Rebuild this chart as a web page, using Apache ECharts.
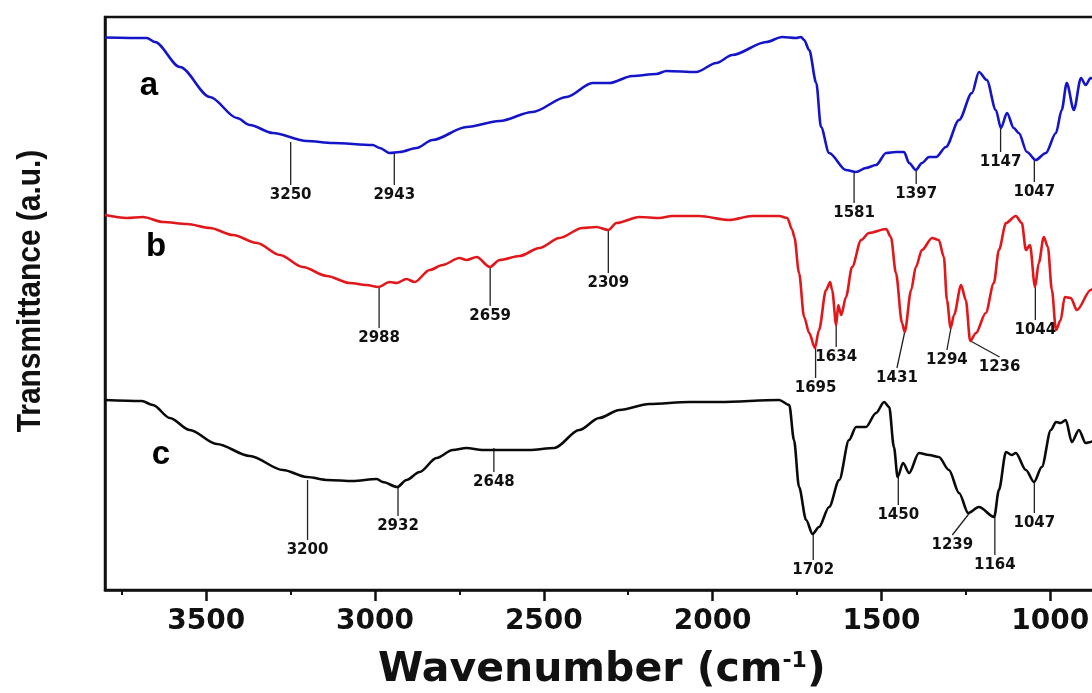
<!DOCTYPE html>
<html>
<head>
<meta charset="utf-8">
<script src="https://cdn.jsdelivr.net/npm/echarts@6/dist/echarts.min.js"></script>
<style>
  html, body { margin: 0; padding: 0; background: #fff; overflow: hidden; }
  #chart { width: 1260px; height: 693px; }
</style>
</head>
<body>
<div id="chart"></div>
<script>
// FTIR spectra, offset vertically: [wavenumber (cm-1), transmittance (a.u.)]
const spectrumA = [
  [3800,110.5],[3676,110.4],[3652,109.6],[3578,104.6],[3489,98.6],[3409,94.4],[3371,93.0],
  [3303,91.4],[3202,89.8],[3125,89.4],[3007,89.0],[2986,88.4],[2957,87.4],[2927,87.6],
  [2877,88.4],[2830,90.0],[2729,92.6],[2631,93.8],[2534,95.6],[2433,98.6],[2356,101.4],
  [2306,101.4],[2238,102.8],[2167,103.2],[2137,103.8],[2049,103.6],[1989,105.4],[1942,107.0],
  [1841,109.6],[1794,110.6],[1753,110.4],[1738,110.6],[1729,110.0],[1714,108.0],[1693,101.4],
  [1679,92.6],[1655,87.4],[1605,84.0],[1575,83.6],[1546,84.4],[1516,85.0],[1486,87.4],
  [1457,87.6],[1433,87.6],[1418,85.4],[1398,84.0],[1380,85.4],[1359,86.6],[1338,86.6],
  [1309,88.6],[1270,94.0],[1232,99.4],[1211,103.6],[1188,102.0],[1161,96.0],[1146,92.4],
  [1128,95.4],[1108,92.4],[1093,91.4],[1069,87.6],[1043,86.0],[1013,87.4],[983,91.4],
  [966,96.0],[951,101.4],[930,96.0],[909,102.4],[895,101.0],[880,102.4],[860,102.0]
];
const spectrumB = [
  [3800,75.0],[3735,74.4],[3688,74.6],[3628,73.6],[3557,73.2],[3489,72.4],[3421,71.0],
  [3350,69.4],[3282,67.0],[3214,64.6],[3143,62.8],[3075,61.4],[3025,61.0],[2990,60.6],
  [2957,61.6],[2936,61.4],[2907,62.2],[2883,61.6],[2838,64.0],[2800,65.0],[2750,66.4],
  [2729,66.0],[2699,66.6],[2660,64.6],[2631,66.0],[2572,66.8],[2513,68.4],[2454,70.4],
  [2386,72.4],[2344,72.6],[2309,72.0],[2285,73.4],[2217,74.6],[2158,74.4],[2120,74.8],
  [2040,74.8],[1951,74.0],[1883,74.8],[1803,74.8],[1779,74.4],[1764,72.0],[1758,70.6],
  [1744,63.4],[1729,54.6],[1714,51.4],[1697,48.4],[1685,52.0],[1664,60.0],[1652,61.6],
  [1646,60.0],[1634,53.0],[1628,57.0],[1619,55.0],[1605,58.6],[1587,64.6],[1560,70.0],
  [1537,71.4],[1486,72.2],[1472,70.6],[1457,63.4],[1439,53.4],[1431,51.6],[1412,60.0],
  [1398,64.6],[1380,68.0],[1350,70.4],[1330,70.0],[1315,66.6],[1306,58.0],[1295,52.4],
  [1285,55.0],[1264,61.0],[1250,58.0],[1237,49.8],[1220,51.4],[1191,55.4],[1167,61.4],
  [1152,68.0],[1131,73.4],[1102,74.8],[1084,73.4],[1072,68.0],[1060,69.0],[1045,60.6],
  [1034,65.4],[1019,70.6],[1007,68.6],[995,60.0],[983,52.0],[969,54.0],[957,58.6],
  [939,58.4],[921,56.0],[880,60.0],[860,62.0]
];
const spectrumC = [
  [3800,38.0],[3691,37.8],[3658,37.0],[3608,34.4],[3549,32.0],[3469,29.2],[3371,26.8],
  [3273,24.0],[3202,22.6],[3140,22.0],[3066,21.8],[2995,22.2],[2977,21.6],[2934,20.6],
  [2907,22.0],[2868,23.6],[2818,26.4],[2770,28.0],[2729,28.4],[2682,28.0],[2631,28.0],
  [2543,28.0],[2469,28.4],[2395,32.0],[2336,34.4],[2276,36.0],[2188,37.2],[2069,37.6],
  [1980,37.6],[1803,38.0],[1773,37.0],[1759,30.0],[1744,20.6],[1723,14.0],[1704,11.2],
  [1685,12.6],[1655,16.6],[1625,22.0],[1596,30.0],[1575,32.6],[1546,32.6],[1516,35.4],
  [1492,37.6],[1477,36.6],[1463,28.6],[1452,22.6],[1436,25.4],[1418,23.4],[1389,27.4],
  [1359,27.0],[1330,26.6],[1300,24.0],[1270,19.4],[1243,15.4],[1211,16.6],[1166,14.6],
  [1152,20.0],[1131,27.6],[1114,27.0],[1102,27.4],[1072,24.0],[1048,21.6],[1025,24.6],
  [998,32.0],[983,33.6],[969,33.4],[954,34.0],[936,29.6],[915,32.0],[895,29.4],
  [880,29.6],[860,31.0]
];

// Band assignments: [band (cm-1), leader top, leader end wavenumber, leader end]
const bandsA = [
  [3250,89.6,3250,81.0],[2943,87.4,2943,81.0],[1581,83.6,1581,77.4],
  [1397,84.0,1397,81.2],[1147,92.4,1147,87.6],[1047,86.0,1047,81.6]
];
const bandsB = [
  [2988,60.6,2988,52.4],[2659,64.6,2659,56.8],[2309,72.0,2309,63.4],
  [1695,48.4,1695,42.4],[1634,53.0,1634,48.6],[1431,51.6,1454,44.4],
  [1294,52.4,1306,48.0],[1236,49.8,1150,46.6],[1044,60.6,1044,54.0]
];
const bandsC = [
  [3200,22.0,3200,10.0],[2932,20.6,2932,14.8],[2648,28.4,2648,23.6],
  [1702,11.2,1702,6.0],[1450,22.6,1450,17.0],[1239,15.4,1290,11.0],
  [1164,14.6,1164,7.0],[1047,21.6,1047,15.4]
];

// Curve letters placed next to each trace
const traceNames = ['a', 'b', 'c'];
const traceNamePos = [[3670,100.8],[3649,68.6],[3634,27.0]];

const majorTicks = [500,1000,1500,2000,2500,3000,3500];
const minorTicks = [750,1250,1750,2250,2750,3250,3750];

const chart = echarts.init(document.getElementById('chart'), null, { renderer: 'canvas' });

function renderBand(params, api) {
  const p0 = api.coord([api.value(0), api.value(1)]);
  const p1 = api.coord([api.value(2), api.value(3)]);
  return {
    type: 'group',
    children: [
      { type: 'line', shape: { x1: p0[0], y1: p0[1], x2: p1[0], y2: p1[1] },
        style: { stroke: '#222', lineWidth: 1.3 } },
      { type: 'text', x: p1[0], y: p1[1] + 3,
        style: { text: String(api.value(0)), font: 'bold 15px "DejaVu Sans", sans-serif',
                 fill: '#111', align: 'center', verticalAlign: 'top',
                 textAlign: 'center', textVerticalAlign: 'top' } }
    ]
  };
}

function renderTraceName(params, api) {
  const p = api.coord([api.value(0), api.value(1)]);
  return {
    type: 'text', x: p[0], y: p[1],
    style: { text: traceNames[params.dataIndex],
             font: 'bold 33px "Liberation Sans", Arial, sans-serif', fill: '#000',
             align: 'center', verticalAlign: 'middle',
             textAlign: 'center', textVerticalAlign: 'middle' }
  };
}

function lineSeries(data, color) {
  return {
    type: 'line', data: data, showSymbol: false, smooth: 0.3, smoothMonotone: 'x',
    lineStyle: { color: color, width: 2.6 }, itemStyle: { color: color },
    silent: true, z: 3
  };
}

function bandSeries(data) {
  return {
    type: 'custom', data: data, renderItem: renderBand,
    encode: { x: [0, 2], y: [1, 3] }, silent: true, z: 2
  };
}

const tickFont = { fontFamily: '"DejaVu Sans", sans-serif', fontWeight: 'bold', fontSize: 28, color: '#111' };

chart.setOption({
  animation: false,
  backgroundColor: '#fff',
  grid: { left: 105, right: 41, top: 17, bottom: 103, show: true,
          borderColor: '#111', borderWidth: 2.5, backgroundColor: 'transparent' },
  xAxis: [
    {
      type: 'value', min: 500, max: 3800, inverse: true, position: 'bottom',
      axisLine: { show: true, lineStyle: { color: '#111', width: 2.5 } },
      axisTick: { show: true, inside: false, length: 11, customValues: majorTicks,
                  lineStyle: { color: '#111', width: 2.5 } },
      axisLabel: Object.assign({ margin: 18, customValues: majorTicks,
                                 formatter: v => String(v) }, tickFont),
      splitLine: { show: false }
    },
    {
      type: 'value', min: 500, max: 3800, inverse: true, position: 'bottom', offset: 0,
      axisLine: { show: false },
      axisTick: { show: true, inside: false, length: 5, customValues: minorTicks,
                  lineStyle: { color: '#111', width: 2 } },
      axisLabel: { show: false },
      splitLine: { show: false }
    }
  ],
  yAxis: {
    type: 'value', min: 0, max: 114.6,
    axisLine: { show: true, lineStyle: { color: '#111', width: 2.5 } },
    axisTick: { show: false }, axisLabel: { show: false }, splitLine: { show: false }
  },
  series: [
    lineSeries(spectrumA, '#1414c8'),
    lineSeries(spectrumB, '#e0181c'),
    lineSeries(spectrumC, '#0a0a0a'),
    bandSeries(bandsA),
    bandSeries(bandsB),
    bandSeries(bandsC),
    {
      type: 'custom', data: traceNamePos, renderItem: renderTraceName,
      encode: { x: 0, y: 1 }, silent: true, z: 4
    }
  ],
  graphic: [
    {
      type: 'text', x: 31, y: 291, rotation: Math.PI / 2, scaleX: 0.88,
      style: { text: 'Transmittance (a.u.)', font: 'bold 34px "Liberation Sans", Arial, sans-serif',
               fill: '#111', align: 'center', verticalAlign: 'middle',
               textAlign: 'center', textVerticalAlign: 'middle' }
    },
    {
      type: 'text', left: 378, top: 650,
      style: {
        text: '{m|Wavenumber (cm}{s|-1}{m|)}', fill: '#111',
        rich: {
          m: { font: 'bold 41px "DejaVu Sans", sans-serif', fill: '#111' },
          s: { font: 'bold 22px "DejaVu Sans", sans-serif', fill: '#111', verticalAlign: 'top' }
        }
      }
    }
  ]
});
</script>
</body>
</html>
